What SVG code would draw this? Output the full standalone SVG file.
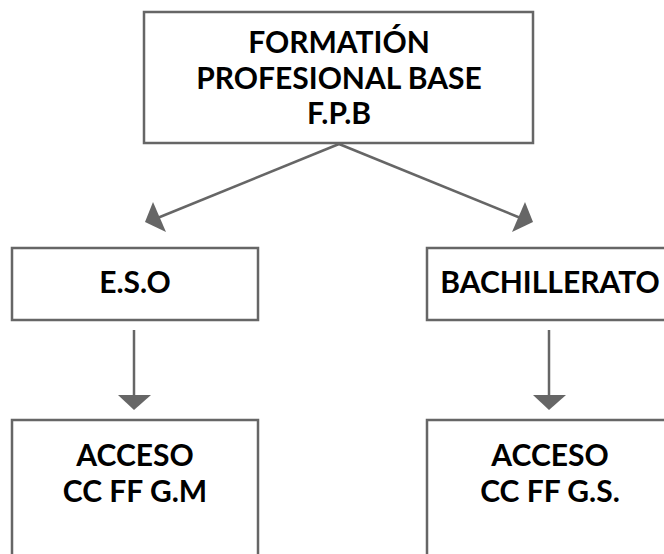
<svg xmlns="http://www.w3.org/2000/svg" width="664" height="554" viewBox="0 0 664 554">
<style>
.box{fill:#fff;stroke:#666;stroke-width:2.5}
.t{font-family:Lato,"Liberation Sans",sans-serif;font-weight:bold;font-size:30px;fill:#000;text-anchor:middle}
.c{stroke:#666;stroke-width:2.5;fill:none}
.h{fill:#666}
</style>
<rect width="664" height="554" fill="#fff"/>
<g id="connectors">
<line class="c" x1="339" y1="144" x2="155" y2="219"/>
<polygon class="h" points="145,222 153,202 166,232"/>
<line class="c" x1="339" y1="144" x2="523" y2="219"/>
<polygon class="h" points="533,222 525,202 512,232"/>
<line class="c" x1="134" y1="330" x2="134" y2="400"/>
<polygon class="h" points="118,395 151,395 134,410"/>
<line class="c" x1="549" y1="330" x2="549" y2="400"/>
<polygon class="h" points="533,395 566,395 549,410"/>
</g>
<g id="fpb">
<rect class="box" x="144" y="12" width="389" height="131"/>
<text class="t" x="339" y="53">FORMATIÓN</text>
<text class="t" x="339" y="89">PROFESIONAL BASE</text>
<text class="t" x="339" y="124">F.P.B</text>
</g>
<g id="eso">
<rect class="box" x="12" y="248" width="246" height="72"/>
<text class="t" x="135" y="293">E.S.O</text>
</g>
<g id="bach">
<rect class="box" x="427" y="248" width="246" height="72"/>
<text class="t" x="550" y="293">BACHILLERATO</text>
</g>
<g id="gm">
<rect class="box" x="12" y="420" width="246" height="150"/>
<text class="t" x="135" y="466">ACCESO</text>
<text class="t" x="135" y="502">CC FF G.M</text>
</g>
<g id="gs">
<rect class="box" x="427" y="420" width="246" height="150"/>
<text class="t" x="550" y="466">ACCESO</text>
<text class="t" x="550" y="502">CC FF G.S.</text>
</g>
</svg>
